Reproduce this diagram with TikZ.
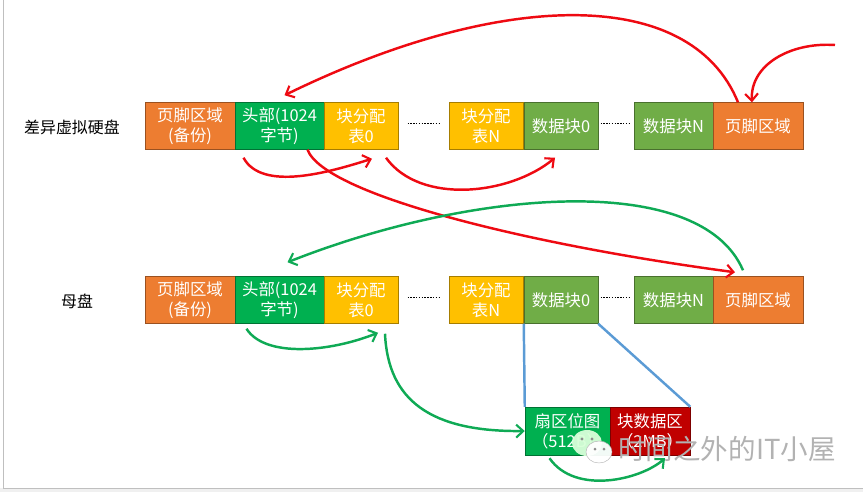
\documentclass[tikz,border=0pt]{standalone}
\usepackage{fontspec}
\setmainfont{Noto Sans CJK SC}
\usetikzlibrary{
		arrows.meta,
		calc
	}
\definecolor{footcol}{HTML}{ED7D31}
\definecolor{headcol}{HTML}{00B050}
\definecolor{alloccol}{HTML}{FFC000}
\definecolor{datacol}{HTML}{70AD47}
\definecolor{sectcol}{HTML}{C00000}
\definecolor{linkred}{HTML}{EE0A12}
\definecolor{linkgreen}{HTML}{0FAA55}
\definecolor{linkblue}{HTML}{5B9BD5}
\tikzset{
		>={Straight Barb[length=6pt,width=11pt,line width=1.8pt]},
		blockbox/.style={draw=#1!65!black, fill=#1, text=white, inner sep=0pt, minimum height=47*0.03cm, align=center, font=\fontsize{14}{17}\selectfont},
		rowlabel/.style={inner sep=0pt, font=\fontsize{13.6}{17}\selectfont},
		redlink/.style={->, linkred, line width=2.1pt},
		greenlink/.style={->, linkgreen, line width=2.1pt},
		dotlink/.style={line width=1.2pt, dash pattern=on 1.2pt off 1.2pt}
	}
\begin{document}
\begin{tikzpicture}[x=0.03cm, y=-0.03cm]
            \useasboundingbox (0, 0) rectangle (863, 492);
            \fill[gray!12] (0, 488) rectangle (863, 492);
            \draw[gray!50, line width=0.8pt] (3, 0) -- (3, 488) -- (863, 488);

            \node[rowlabel] (a-label) at (72, 127) {差异虚拟硬盘};
            \node[rowlabel] (b-label) at (77, 301) {母盘};

            \foreach \rowname/\rowy in {a/126, b/300}
            \foreach \boxname/\boxx/\boxw/\boxcol/\boxtext in {
                back/190/90/footcol/{页脚区域\\(备份)},
                head/279.5/89/headcol/{头部(1024\\字节)},
                allocz/361/74/alloccol/{块分配\\表0},
                allocn/486/74/alloccol/{块分配\\表N},
                dataz/561/74/datacol/{数据块0},
                datan/673.5/79/datacol/{数据块N},
                foot/758/90/footcol/{页脚区域}}
            \node[blockbox=\boxcol, minimum width=\boxw*0.03cm] (\rowname-\boxname) at (\boxx, \rowy) {\boxtext};

            \node[blockbox=headcol, minimum width=85*0.03cm, minimum height=48*0.03cm] (bitmap) at (567.5, 431) {扇区位图\\（512B）};
            \node[blockbox=sectcol, minimum width=80*0.03cm, minimum height=48*0.03cm] (sectors) at (650, 431) {块数据区\\（2MB）};

            \foreach \rowname in {a, b} {
            \draw[dotlink, shorten >=8pt, shorten <=8pt] ([yshift=2pt]\rowname-allocz.east) -- ([yshift=2pt]\rowname-allocn.west);
            \draw[dotlink, shorten >=2pt, shorten <=2pt] ([yshift=2pt]\rowname-dataz.east) -- ([yshift=2pt]\rowname-datan.west);
            }

            % red links
            \coordinate (source) at (835, 45);
            \draw[redlink] (source) .. controls (790, 42) and (750, 65) .. ($(a-foot.north)+(-6, 0)$);
            \draw[redlink] ($(a-foot.north)+(-20, 0)$) .. controls (690, -15) and (500, -10) .. ($(a-head.north)+(5, -7)$);
            \draw[redlink] ($(a-head.south)+(-36, 8)$) .. controls (262, 192) and (330, 172) .. ($(a-allocz.south)+(11, 9)$);
            \draw[redlink] ($(a-allocz.south)+(25, 8)$) .. controls (420, 205) and (510, 195) .. ($(a-dataz.south)+(-6, 8)$);
            \draw[redlink] ($(a-head.south)+(28, 0)$) .. controls (325, 195) and (530, 245) .. ($(b-foot.north)+(-23, -4)$);

            % green links
            \draw[greenlink] ($(b-foot.north)+(-15, -6)$) .. controls (700, 170) and (470, 190) .. ($(b-head.north)+(8, -14)$);
            \draw[greenlink] ($(b-head.south)+(-33, 5)$) .. controls (265, 358) and (330, 352) .. ($(b-allocz.south)+(17, 9)$);
            \draw[greenlink] ($(b-allocz.south)+(24, 10)$) .. controls (388, 400) and (430, 432) .. (bitmap.west);
            \draw[greenlink] ($(bitmap.south)+(-18, 3)$) .. controls (575, 495) and (640, 480) .. ($(sectors.south)+(15, 3)$);

            % blue links
            \draw[linkblue, line width=2.1pt] (b-dataz.south west) -- (bitmap.north west);
            \draw[linkblue, line width=2.1pt] (b-dataz.south east) -- (sectors.north east);

            % watermark
            \fill[white!85!green, opacity=0.95] (587, 443) ellipse (15 and 13);
            \fill[black!45] (582, 439) circle (1.7) (592, 439) circle (1.7);
            \fill[white, draw=gray!60, line width=0.4pt, opacity=0.95] (599, 452) ellipse (13 and 11);
            \fill[black!45] (595, 449) circle (1.5) (604, 449) circle (1.5);
            \node[inner sep=0pt, text=gray!60, font=\fontsize{23.5}{24}\selectfont] (mark) at (727, 449) {时间之外的IT小屋};
        \end{tikzpicture}
\end{document}
